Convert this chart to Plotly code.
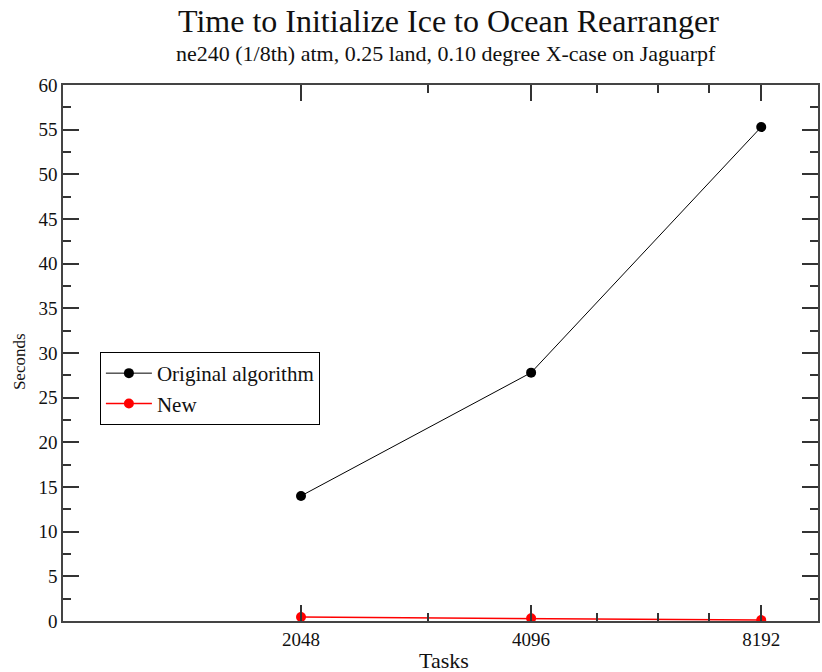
import plotly.graph_objects as go
import math

tasks = [2048, 4096, 8192]
original = [14.0, 27.8, 55.3]
new = [0.45, 0.3, 0.1]
x_minor = [3000, 5000, 6000, 7000]
y_ticks = list(range(0, 61, 5))

FONT = "Liberation Serif, Times New Roman, serif"
L, R, T, B = 63, 2, 85, 51
W, H = 822, 672
pw, ph = W - L - R, H - T - B


def px2paper(px, py):
    return (px - L) / pw, (H - py - B) / ph


fig = go.Figure()
fig.add_trace(go.Scatter(x=tasks, y=original, mode="lines+markers", name="Original algorithm",
                         line=dict(color="black", width=1), marker=dict(color="black", size=10)))
fig.add_trace(go.Scatter(x=tasks, y=new, mode="lines+markers", name="New",
                         line=dict(color="red", width=1.5), marker=dict(color="red", size=10)))

axis_common = dict(showline=True, linecolor="#444", linewidth=1.5, mirror="ticks",
                   ticks="inside", tickcolor="#333", tickwidth=1.5, ticklen=16,
                   showgrid=False, zeroline=False,
                   tickfont=dict(family=FONT, size=19, color="#111"))

fig.update_xaxes(type="log", range=[3.0, math.log10(9720)], tickvals=tasks,
                 ticktext=[str(t) for t in tasks],
                 minor=dict(tickvals=x_minor, ticks="inside", ticklen=8, tickcolor="#333", tickwidth=1.5),
                 **axis_common)
fig.update_yaxes(range=[0, 60], tickvals=y_ticks,
                 minor=dict(dtick=2.5, ticks="inside", ticklen=8, tickcolor="#333", tickwidth=1.5),
                 **axis_common)

texts = [
    ("Time to Initialize Ice to Ocean Rearranger", 450, 21, 32, 0),
    ("ne240 (1/8th) atm, 0.25 land, 0.10 degree X-case on Jaguarpf", 447, 53, 22, 0),
    ("Tasks", 445, 660, 22, 0),
    ("Seconds", 19, 362, 17, -90),
]
annotations = []
for txt, x, y, size, ang in texts:
    ax, ay = px2paper(x, y)
    annotations.append(dict(text=txt, x=ax, y=ay, xref="paper", yref="paper",
                            xanchor="center", yanchor="middle", showarrow=False, textangle=ang,
                            font=dict(family=FONT, size=size, color="#111")))

lx, ly = px2paper(100, 352)
fig.update_layout(
    width=W, height=H,
    margin=dict(l=L, r=R, t=T, b=B),
    paper_bgcolor="white", plot_bgcolor="white",
    showlegend=True,
    legend=dict(x=lx, y=ly, xanchor="left", yanchor="top",
                bordercolor="black", borderwidth=1, bgcolor="white",
                font=dict(family=FONT, size=21, color="#111"),
                tracegroupgap=0, itemwidth=46),
    annotations=annotations,
)

fig.write_html("out.html")
